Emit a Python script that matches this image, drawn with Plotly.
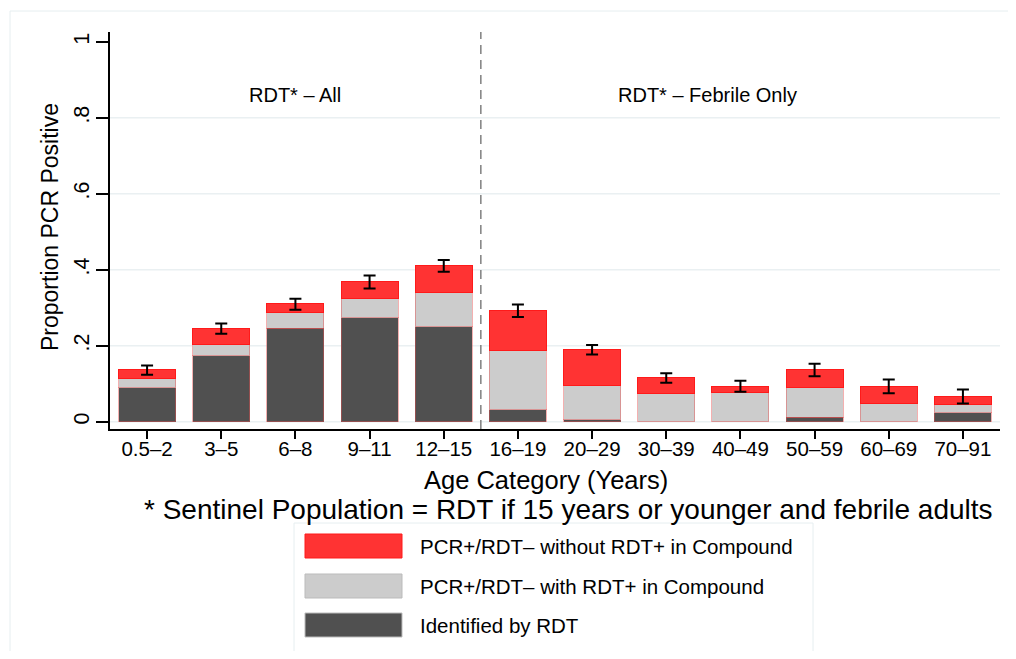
import plotly.graph_objects as go

# Age categories and stacked proportions (segment heights)
categories = ["0.5–2", "3–5", "6–8", "9–11", "12–15", "16–19",
              "20–29", "30–39", "40–49", "50–59", "60–69", "70–91"]
identified_rdt = [0.090, 0.174, 0.246, 0.274, 0.250, 0.032, 0.005, 0.0, 0.0, 0.012, 0.0, 0.024]
with_compound = [0.024, 0.029, 0.041, 0.050, 0.089, 0.155, 0.091, 0.074, 0.076, 0.077, 0.047, 0.021]
without_compound = [0.023, 0.043, 0.024, 0.044, 0.072, 0.106, 0.093, 0.042, 0.018, 0.048, 0.047, 0.022]
ci_low = [0.124, 0.232, 0.295, 0.351, 0.395, 0.276, 0.177, 0.103, 0.079, 0.120, 0.075, 0.048]
ci_high = [0.148, 0.259, 0.324, 0.385, 0.426, 0.309, 0.202, 0.128, 0.108, 0.153, 0.111, 0.085]

y_ticks = [0, 0.2, 0.4, 0.6, 0.8, 1]
y_ticktext = ["0", ".2", ".4", ".6", ".8", "1"]
grid_vals = [0, 0.2, 0.4, 0.6, 0.8]

legend_labels = ["PCR+/RDT– without RDT+ in Compound",
                 "PCR+/RDT– with RDT+ in Compound",
                 "Identified by RDT"]
RED, GRAY, DARK = "#ff3333", "#cccccc", "#505050"
FONT = "Liberation Sans, Arial, sans-serif"

# page body has an 8px margin, so the figure is sized to fit inside it
OFF = 8
W, H = 1000, 643
L, T = 102, 24
pw, ph = 890, 397
R, B = W - L - pw, H - T - ph


def px(x):
    # screen x -> paper x
    return (x - OFF - L) / pw


def py(y):
    # screen y -> paper y
    return (T + ph - (y - OFF)) / ph


totals = [a + b + c for a, b, c in zip(identified_rdt, with_compound, without_compound)]
err_plus = [h - t for h, t in zip(ci_high, totals)]
err_minus = [t - l for t, l in zip(totals, ci_low)]

fig = go.Figure()
outline = dict(color="rgba(230,80,80,0.45)", width=1)
fig.add_trace(go.Bar(x=categories, y=identified_rdt, marker=dict(color=DARK, line=outline),
                     width=0.77, name=legend_labels[2]))
fig.add_trace(go.Bar(x=categories, y=with_compound, marker=dict(color=GRAY, line=outline),
                     width=0.77, name=legend_labels[1]))
fig.add_trace(go.Bar(x=categories, y=without_compound,
                     marker=dict(color=RED, line=dict(color="#ff1a1a", width=1)),
                     width=0.77, name=legend_labels[0]))
fig.add_trace(go.Scatter(x=categories, y=totals, mode="markers",
                         marker=dict(size=1, opacity=0),
                         error_y=dict(type="data", array=err_plus, arrayminus=err_minus,
                                      color="black", thickness=2, width=6)))

shapes = []
for g in grid_vals:
    shapes.append(dict(type="line", xref="paper", yref="y", x0=0, x1=1, y0=g, y1=g,
                       line=dict(color="#eaf0f2", width=1.5), layer="below"))
# divider between child and adult groups
shapes.append(dict(type="line", xref="x", yref="paper", x0=4.5, x1=4.5, y0=0, y1=1,
                   line=dict(color="#808080", width=1.5, dash="9px,6px")))
# outer frame
shapes.append(dict(type="rect", xref="paper", yref="paper", x0=px(10), x1=px(1040),
                   y0=py(720), y1=py(11), line=dict(color="#e6eef0", width=1)))
# legend box
shapes.append(dict(type="rect", xref="paper", yref="paper", x0=px(294), x1=px(813),
                   y0=py(720), y1=py(523), line=dict(color="#e6eef0", width=1)))

annotations = [
    dict(x=2, y=0.86, xref="x", yref="y", text="RDT* – All", showarrow=False,
         xanchor="center", yanchor="middle", font=dict(size=20)),
    dict(x=7.55, y=0.86, xref="x", yref="y", text="RDT* – Febrile Only", showarrow=False,
         xanchor="center", yanchor="middle", font=dict(size=20)),
    dict(x=px(546), y=py(480), xref="paper", yref="paper", text="Age Category (Years)",
         showarrow=False, xanchor="center", yanchor="middle", font=dict(size=25.5)),
    dict(x=px(568), y=py(509), xref="paper", yref="paper",
         text="* Sentinel Population = RDT if 15 years or younger and febrile adults",
         showarrow=False, xanchor="center", yanchor="middle", font=dict(size=28)),
    dict(x=px(50), y=py(227), xref="paper", yref="paper", text="Proportion PCR Positive",
         showarrow=False, textangle=-90, xanchor="center", yanchor="middle",
         font=dict(size=23)),
]

sw_colors = [RED, GRAY, DARK]
sw_tops = [534, 574, 613]
for col, top, lab in zip(sw_colors, sw_tops, legend_labels):
    shapes.append(dict(type="rect", xref="paper", yref="paper", x0=px(305), x1=px(402),
                       y0=py(top + 24), y1=py(top), fillcolor=col,
                       line=dict(color="#ff1a1a" if col == RED else "#bbbbbb", width=1)))
    annotations.append(dict(x=px(418), y=py(top + 12), xref="paper", yref="paper",
                            text=lab, showarrow=False, xanchor="left", yanchor="middle",
                            font=dict(size=20.5)))

fig.update_layout(
    width=W, height=H,
    margin=dict(l=L, r=R, t=T, b=B),
    barmode="stack",
    bargap=0.23,
    showlegend=False,
    plot_bgcolor="white", paper_bgcolor="white",
    font=dict(family=FONT, color="black", size=18),
    shapes=shapes,
    annotations=annotations,
    xaxis=dict(range=[-0.5, 11.5], showline=True, linecolor="black", linewidth=1.5,
               ticks="outside", ticklen=8, tickwidth=1.5, tickcolor="black",
               tickfont=dict(size=20.5), ticklabelstandoff=-7,
               showgrid=False, zeroline=False),
    yaxis=dict(range=[-0.019, 1.026], showline=True, linecolor="black", linewidth=1.5,
               tickvals=y_ticks, ticktext=y_ticktext, tickangle=-90,
               ticks="outside", ticklen=12, tickwidth=1.5, tickcolor="black",
               tickfont=dict(size=21.5), ticklabelstandoff=-1,
               showgrid=False, zeroline=False),
)

fig.write_html("out.html")
